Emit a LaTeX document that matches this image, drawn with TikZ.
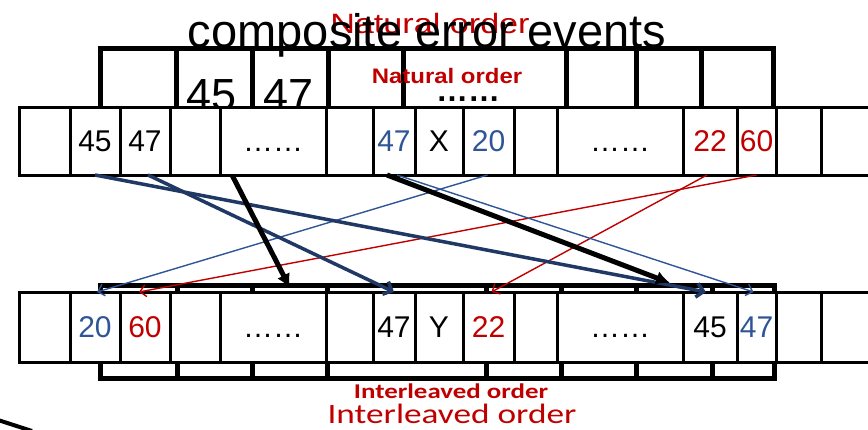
\documentclass[tikz,border=0pt]{standalone}
\usepackage{fontspec}
\setmainfont{Liberation Sans}
\newfontfamily\calib{Carlito}
\usetikzlibrary{arrows.meta}
\definecolor{myblue}{RGB}{47,85,151}
\definecolor{myred}{RGB}{192,0,0}
\definecolor{navy}{RGB}{31,56,100}
\begin{document}
\begin{tikzpicture}[x=1pt,y=-1pt,
  cell/.style={draw=black, line width=3pt, fill=white, anchor=north west,
    inner sep=0pt, outer sep=0pt, font=\fontsize{30}{30}\selectfont,
    text height=21.5pt, text depth=0pt},
  bcell/.style={draw=black, line width=5pt, anchor=north west, inner sep=0pt, outer sep=0pt},
  thinblue/.style={draw=myblue, line width=1.4pt, -{Straight Barb[length=6pt,width=12pt]}},
  thinred/.style={draw=myred, line width=1.4pt, -{Straight Barb[length=6pt,width=12pt]}},
  navyarrow/.style={draw=navy, line width=3.5pt, -{Straight Barb[length=7pt,width=14pt]}},
  blackarrow/.style={draw=black, line width=5pt, -{Latex[length=14pt,width=14pt]}},
  redlabel/.style={text=myred, anchor=base, inner sep=0pt}
]
\useasboundingbox (0,0) rectangle (868,429);
\clip (0,0) rectangle (868,429);
\fill[white] (0,0) rectangle (868,429);

% red label behind title
\node[redlabel, font=\fontsize{28}{28}\selectfont, xscale=1.22] (nat1) at (430,33) {Natural order};
% title
\node[anchor=base, inner sep=0pt, font=\fontsize{47}{47}\selectfont] (title) at (427,47) {composite error events};

% top back frame
\foreach \a/\b [count=\i] in {100/176,176/252,252/328,328/403,403/566,566/636,636/701,701/773}
  \node[bcell, minimum width={(\b-\a)*1pt}, minimum height=64pt] (u\i) at (\a,48) {};
\node[anchor=base, inner sep=0pt, font=\fontsize{45}{45}\selectfont] (u45) at (212,110) {45};
\node[anchor=base, inner sep=0pt, font=\fontsize{45}{45}\selectfont] (u47) at (289,110) {47};
\node[anchor=base, inner sep=0pt, font=\bfseries\fontsize{32}{32}\selectfont] (udots) at (468,101) {……};
\node[redlabel, font=\bfseries\fontsize{21}{21}\selectfont, xscale=1.14] (nat2) at (447,83) {Natural order};

% bottom back frame
\foreach \a/\b [count=\i] in {100/177,177/252,252/327,327/486,486/561,561/636,636/712,712/774}
  \node[bcell, minimum width={(\b-\a)*1pt}, minimum height=93pt] (v\i) at (\a,285) {};

% top row
\foreach \n/\x/\w/\t/\c in {1/19/51//black,2/70/50/45/black,3/120/50/47/black,4/170/50//black,
  5/220/106/……/black,6/326/47//black,7/373/42/47/myblue,8/415/48/X/black,9/463/51/20/myblue,
  10/514/43//black,11/557/126/……/black,12/683/54/22/myred,13/737/39/60/myred,14/776/45//black,15/821/60//black}
  \node[cell, minimum width=\w pt, minimum height=68pt, text=\c] (t\n) at (\x,107) {\t};

% bottom row
\foreach \n/\x/\w/\t/\c in {1/19/51//black,2/70/50/20/myblue,3/120/50/60/myred,4/170/50//black,
  5/220/106/……/black,6/326/47//black,7/373/42/47/black,8/415/48/Y/black,9/463/51/22/myred,
  10/514/43//black,11/557/126/……/black,12/683/54/45/black,13/737/39/47/myblue,14/776/45//black,15/821/60//black}
  \node[cell, minimum width=\w pt, minimum height=70pt, text=\c] (b\n) at (\x,292) {\t};

% labels below
\node[redlabel, font=\calib\bfseries\fontsize{21}{21}\selectfont, xscale=1.28] (il1) at (451,398) {Interleaved order};
\node[redlabel, font=\calib\fontsize{28}{28}\selectfont, xscale=1.26] (il2) at (452,423) {Interleaved order};

% stray stroke bottom-left
\draw[line width=4pt] (-2,420) -- (32,431);

% arrows
\draw[thinred] ([xshift=-3pt]t12.south) -- ([xshift=3pt]b9.north);
\draw[thinred] (t13.south) -- ([xshift=-6pt]b3.north);
\draw[thinblue] ([xshift=-1pt]t9.south) -- ([xshift=2pt]b2.north);
\draw[thinblue] ([xshift=24pt]t7.south west) -- ([xshift=-3pt]b13.north);
\draw[navyarrow] (t2.south) -- ([xshift=-4pt]b12.north);
\draw[navyarrow] ([xshift=3pt]t3.south) -- (b7.north);
\draw[blackarrow] ([xshift=12pt]t5.south west) -- ([xshift=70pt,yshift=4pt]b5.north west);
\draw[blackarrow] ([xshift=14pt]t7.south west) -- ([xshift=-13pt,yshift=9pt]b12.north west);
\end{tikzpicture}
\end{document}
